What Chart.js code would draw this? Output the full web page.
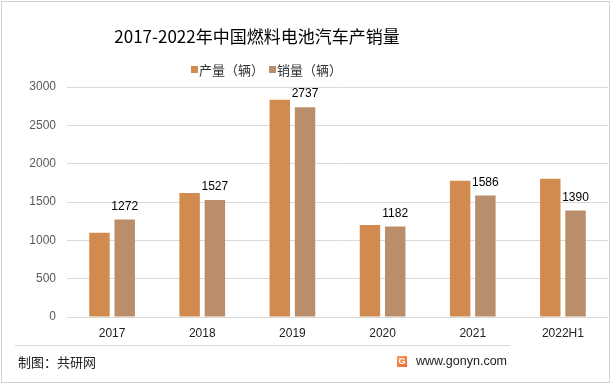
<!DOCTYPE html>
<html><head><meta charset="utf-8">
<script src="https://cdn.jsdelivr.net/npm/chart.js@4"></script>
<style>html,body{margin:0;padding:0;background:#fff}#wrap{width:611px;height:384px;position:relative}</style>
</head><body><div id="wrap"><canvas id="c" width="611" height="384"></canvas></div>
<script>
const categories = ['2017','2018','2019','2020','2021','2022H1'];
const production = [1100, 1619, 2833, 1199, 1777, 1804];
const sales = [1272, 1527, 2737, 1182, 1586, 1390];
const seriesNames = ['产量（辆）','销量（辆）'];
const yTicks = [0,500,1000,1500,2000,2500,3000];
const titleText = '2017-2022年中国燃料电池汽车产销量';
const sourceText = '制图：共研网';
const siteText = 'www.gonyn.com';
const colors = ['#D28B4E','#BA8D6B'];
const CJK = '"Noto Sans CJK SC","Noto Sans",sans-serif';

const deco = {
  id:'deco',
  afterDraw(chart){
    const ctx = chart.ctx;
    ctx.save();
    ctx.strokeStyle = '#d0d0d0'; ctx.lineWidth = 1;
    ctx.strokeRect(1.5,1.5,608,381);
    ctx.fillStyle = '#000'; ctx.font = '17px '+CJK;
    ctx.textAlign='center'; ctx.textBaseline='middle';
    ctx.fillText(titleText, 257, 37);
    ctx.font = '13px '+CJK; ctx.textAlign='left';
    const lx = [191, 269];
    for (let i=0;i<2;i++){
      ctx.fillStyle = colors[i];
      ctx.fillRect(lx[i], 66, 7, 7);
      ctx.fillStyle = '#333';
      ctx.fillText(seriesNames[i], lx[i]+8, 70);
    }
    const meta = chart.getDatasetMeta(1);
    ctx.font = '12px "Liberation Sans",Arial,sans-serif';
    ctx.fillStyle = '#000'; ctx.textAlign='center';
    meta.data.forEach((b,i)=>{ ctx.fillText(String(sales[i]), b.x, b.y-13); });
    ctx.strokeStyle='#d9d9d9'; ctx.beginPath(); ctx.moveTo(15,345.5); ctx.lineTo(510,345.5); ctx.stroke();
    ctx.font = '13px '+CJK; ctx.fillStyle='#222'; ctx.textAlign='left';
    ctx.fillText(sourceText, 18, 362);
    const g = ctx.createLinearGradient(397,356,407,367);
    g.addColorStop(0,'#F4A25A'); g.addColorStop(1,'#E86A3A');
    ctx.fillStyle = g; ctx.fillRect(397,356,10,11);
    ctx.fillStyle='#fff'; ctx.font='bold 9px "Liberation Sans",Arial,sans-serif'; ctx.textAlign='center';
    ctx.fillText('G',402,362);
    ctx.fillStyle='#222'; ctx.font='12.5px "Liberation Sans",Arial,sans-serif'; ctx.textAlign='left';
    ctx.fillText(siteText, 416, 362);
    ctx.restore();
  }
};

new Chart(document.getElementById('c'), {
  type:'bar',
  data:{ labels:categories, datasets:[
    {label:seriesNames[0], data:production, backgroundColor:colors[0], categoryPercentage:0.56, barPercentage:0.81},
    {label:seriesNames[1], data:sales, backgroundColor:colors[1], categoryPercentage:0.56, barPercentage:0.81}
  ]},
  options:{
    responsive:false, animation:false, devicePixelRatio:1,
    layout:{padding:{top:87, left:0, right:3, bottom:37}},
    plugins:{legend:{display:false}, title:{display:false}, tooltip:{enabled:false}},
    scales:{
      x:{
        grid:{display:false, drawTicks:false},
        border:{display:false},
        ticks:{color:'#222', font:{size:12, family:'"Liberation Sans",Arial,sans-serif'}, padding:9},
        afterFit(s){ s.height = 30; }
      },
      y:{
        min:0, max:3000,
        grid:{color:'#d9d9d9', drawTicks:false},
        border:{display:false},
        afterBuildTicks(s){ s.ticks = yTicks.map(v=>({value:v})); },
        ticks:{color:'#595959', font:{size:12, family:'"Liberation Sans",Arial,sans-serif'}, padding:11, callback:(v)=>String(v)},
        afterFit(s){ s.width = 67; }
      }
    }
  },
  plugins:[deco]
});
</script></body></html>
